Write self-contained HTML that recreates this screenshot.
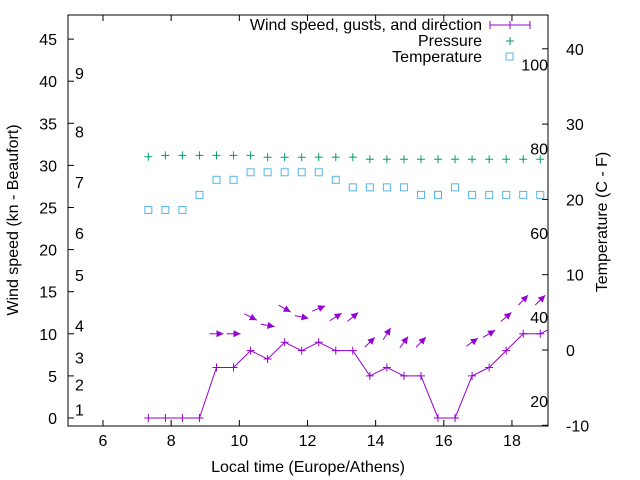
<!DOCTYPE html>
<html><head><meta charset="utf-8"><style>
body{margin:0;background:#fff}
svg{display:block;font-family:"Liberation Sans",sans-serif;font-size:16px}
</style></head><body>
<svg id="chart" width="640" height="480" viewBox="0 0 640 480">
<rect x="0" y="0" width="640" height="480" fill="#fff"/>
<g id="axes"></g>
<g id="marks"></g>
<g id="legend">
 <text x="482" y="30" text-anchor="end">Wind speed, gusts, and direction</text>
 <line x1="490" y1="25" x2="530" y2="25" stroke="#9400d3"/>
 <line x1="490" y1="21" x2="490" y2="29" stroke="#9400d3"/><line x1="530" y1="21" x2="530" y2="29" stroke="#9400d3"/><line x1="510" y1="21" x2="510" y2="29" stroke="#9400d3"/>
 <text x="482" y="46" text-anchor="end">Pressure</text>
 <text x="482" y="62" text-anchor="end">Temperature</text>
 <g stroke="#009e73"><line x1="506" y1="41" x2="514" y2="41"/><line x1="510" y1="37" x2="510" y2="45"/></g>
 <rect x="506" y="53" width="7" height="7" fill="none" stroke="#56b4e9"/>
</g>
</svg>
<script>
const times=[7.33,7.83,8.33,8.83,9.33,9.83,10.33,10.83,11.33,11.83,12.33,12.83,13.33,13.83,14.33,14.83,15.33,15.83,16.33,16.83,17.33,17.83,18.33,18.83,19.33];
const wind=[0,0,0,0,6,6,8,7,9,8,9,8,8,5,6,5,5,0,0,5,6,8,10,10,11];
const dirAngle=[null,null,null,null,0,0,-27,-10,-30,-11,22,32,39,44,58,54,46,null,null,35,30,41,46,44,44];
const pressure=[1012.2,1013.1,1013.1,1013.1,1013.1,1013.1,1013.1,1011.8,1011.8,1011.8,1011.9,1011.9,1011.9,1010.5,1010.5,1010.5,1010.5,1010.5,1010.5,1010.5,1010.5,1010.5,1010.5,1010.5];
const temperature=[18.6,18.6,18.6,20.6,22.6,22.6,23.6,23.6,23.6,23.6,23.6,22.6,21.6,21.6,21.6,21.6,20.6,20.6,21.6,20.6,20.6,20.6,20.6,20.6];
const xTicks=[6,8,10,12,14,16,18];
const yTicks=[0,5,10,15,20,25,30,35,40,45];
const y2Ticks=[-10,0,10,20,30,40];
const beaufort=[[1,1],[2,4],[3,7.2],[4,11],[5,17],[6,22],[7,28],[8,34],[9,41]];
const humidity=[[20,2],[40,12],[60,22],[80,32],[100,42]];
const L=68,R=548,T=15,B=426;
const X=t=>103+(t-6)*34.08;
const Y=v=>418-v*8.42;
const Y2=v=>350-v*7.53;
const YP=p=>160-(p-1010)*1.5;
const NS="http://www.w3.org/2000/svg";
function mk(tag,attrs,parent,text){const e=document.createElementNS(NS,tag);for(const k in attrs)e.setAttribute(k,attrs[k]);if(text!==undefined)e.textContent=text;parent.appendChild(e);return e;}
const ax=document.getElementById('axes'),mg=document.getElementById('marks');
let f=mk('rect',{x:L,y:T,width:R-L,height:B-T,fill:'none',stroke:'#000'},ax);


xTicks.forEach(t=>{mk('line',{x1:X(t),y1:B,x2:X(t),y2:B-6,stroke:'#000'},ax);mk('line',{x1:X(t),y1:T,x2:X(t),y2:T+6,stroke:'#000'},ax);
 const e=mk('text',{x:X(t),y:B+20,'text-anchor':'middle'},ax,t);
 
 });
yTicks.forEach(v=>{mk('line',{x1:L,y1:Y(v),x2:L+6,y2:Y(v),stroke:'#000'},ax);
 const e=mk('text',{x:L-11,y:Y(v)+6,'text-anchor':'end'},ax,v);
 
 });
y2Ticks.forEach(v=>{mk('line',{x1:R,y1:Y2(v),x2:R-6,y2:Y2(v),stroke:'#000'},ax);
 const e=mk('text',{x:566,y:Y2(v)+6},ax,v);
 
 });
beaufort.forEach(([n,v])=>{const e=mk('text',{x:75,y:Y(v)+6},ax,n);
 
 });
humidity.forEach(([n,v])=>{const e=mk('text',{x:548,y:Y(v)+6,'text-anchor':'end'},ax,n);
 
 });
let e;
e=mk('text',{x:308,y:472,'text-anchor':'middle'},ax,'Local time (Europe/Athens)');


e=mk('text',{x:0,y:0,'text-anchor':'middle',transform:'translate(18,220) rotate(-90)'},ax,'Wind speed (kn - Beaufort)');


e=mk('text',{x:0,y:0,'text-anchor':'middle',transform:'translate(607,222) rotate(-90)'},ax,'Temperature (C - F)');


mk('clipPath',{id:'clip'},mg);
mk('rect',{x:L,y:T,width:R-L,height:B-T},document.getElementById('clip'));
const g=mk('g',{'clip-path':'url(#clip)'},mg);
e=mk('polyline',{points:times.map((t,i)=>X(t)+','+Y(wind[i])).join(' '),fill:'none',stroke:'#9400d3'},g);


times.forEach((t,i)=>{const x=X(t),y=Y(wind[i]);
 const p=mk('path',{d:`M${x-4},${y}h8M${x},${y-4}v8`,stroke:'#9400d3'},g);
 
 
 const a=dirAngle[i];
 if(a!==null){const r=a*Math.PI/180,cx=x,cy=Y(wind[i]+4),dx=Math.cos(r)*7,dy=-Math.sin(r)*7;
  const hx=cx+dx,hy=cy+dy,ux=dx/7,uy=dy/7;
  const ar=mk('g',{},g);
  
  
  mk('line',{x1:cx-dx,y1:cy-dy,x2:hx,y2:hy,stroke:'#9400d3'},ar);
  mk('polygon',{points:`${hx},${hy} ${hx-ux*7-uy*3.5},${hy-uy*7+ux*3.5} ${hx-ux*7+uy*3.5},${hy-uy*7-ux*3.5}`,fill:'#9400d3'},ar);}
});
pressure.forEach((p,i)=>{const x=X(times[i]),y=YP(p);
 const m=mk('path',{d:`M${x-4},${y}h8M${x},${y-4}v8`,stroke:'#009e73'},g);
 
 });
temperature.forEach((v,i)=>{const x=X(times[i]),y=Y2(v);
 const m=mk('rect',{x:x-3.5,y:y-3.5,width:7,height:7,fill:'none',stroke:'#56b4e9'},g);
 
 });
</script>
</body></html>
